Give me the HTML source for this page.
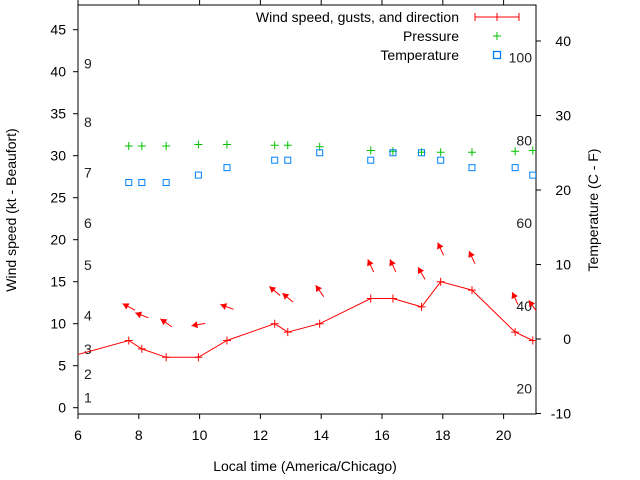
<!DOCTYPE html>
<html><head><meta charset="utf-8"><style>
html,body{margin:0;padding:0;background:#fff}
svg{display:block;font-family:"Liberation Sans",sans-serif}
</style></head><body>
<svg id="chart" width="640" height="480" viewBox="0 0 640 480" xmlns="http://www.w3.org/2000/svg">
<defs><clipPath id="plotclip"><rect x="78" y="5" width="458" height="409"/></clipPath></defs>
<rect x="78" y="5" width="458" height="409" fill="none" stroke="#000" stroke-width="1"/>
<g id="axes"></g>
<g id="series" clip-path="url(#plotclip)"></g>
<g id="legend">
<text x="459" y="22" text-anchor="end" font-size="14" fill="#000">Wind speed, gusts, and direction</text>
<line x1="475" y1="17" x2="519" y2="17" stroke="#f00"/>
<path d="M475 13v8M519 13v8M497 13v8" stroke="#f00"/>
<text x="459" y="41" text-anchor="end" font-size="14" fill="#000">Pressure</text>
<path d="M493 36h8M497 32v8" stroke="#00c000"/>
<text x="459" y="60" text-anchor="end" font-size="14" fill="#000">Temperature</text>
<rect x="493.5" y="51.5" width="7" height="7" fill="none" stroke="#0080ff" stroke-width="1.3"/>
</g>
<text x="305" y="471" text-anchor="middle" font-size="14">Local time (America/Chicago)</text>
<text transform="translate(16,210) rotate(-90)" text-anchor="middle" font-size="14">Wind speed (kt - Beaufort)</text>
<text transform="translate(598,210) rotate(-90)" text-anchor="middle" font-size="14">Temperature (C - F)</text>
</svg>
<script>
const times = [7.67, 8.1, 8.9, 9.96, 10.9, 12.47, 12.9, 13.95, 15.63, 16.36, 17.3, 17.93, 18.96, 20.38, 20.96];
const windSpeed = [8, 7, 6, 6, 8, 10, 9, 10, 13, 13, 12, 15, 14, 9, 8];
const windGust = [12, 11, 10.1, 9.9, 12, 13.9, 13.1, 13.9, 16.9, 16.9, 16, 18.9, 17.9, 13, 12.1];
const windDir = [118, 110, 125, 80, 110, 130, 130, 145, 155, 155, 150, 155, 155, 155, 145];
const pressure = [25.9, 25.9, 25.9, 26.1, 26.1, 26.0, 26.0, 25.8, 25.3, 25.2, 25.06, 25.06, 25.06, 25.2, 25.3];
const temperature = [21, 21, 21, 22, 23, 24, 24, 25, 24, 25, 25, 24, 23, 23, 22];
const prevTime = 5.67, prevSpeed = 6;
const xTicks = [6, 8, 10, 12, 14, 16, 18, 20];
const yTicks = [0, 5, 10, 15, 20, 25, 30, 35, 40, 45];
const y2Ticks = [-10, 0, 10, 20, 30, 40];
const beaufortLabels = ['1','2','3','4','5','6','7','8','9'];
const beaufortKt = [1.2, 4, 7, 11, 17, 22, 28, 34, 41];
const fahrLabels = ['20','40','60','80','100'];
const fahrValues = [20, 40, 60, 80, 100];

const NS = 'http://www.w3.org/2000/svg';
const X = t => 78 + (t - 6) * 30.4;
const Y = v => 407.7 - v * 8.4;
const Y2 = c => 339 - c * 7.45;
function mk(tag, attrs, parent) {
  const e = document.createElementNS(NS, tag);
  for (const k in attrs) e.setAttribute(k, attrs[k]);
  parent.appendChild(e); return e;
}
const axes = document.getElementById('axes');
const series = document.getElementById('series');

xTicks.forEach(t => {
  const g = mk('g', {}, axes);
  
  
  mk('path', {d: `M${X(t)} 414v5M${X(t)} 5v-5`, stroke: '#000'}, g);
  const tx = mk('text', {x: X(t), y: 440, 'text-anchor': 'middle', 'font-size': 14}, g);
  tx.textContent = t;
});
yTicks.forEach(v => {
  const g = mk('g', {}, axes);
  
  
  mk('path', {d: `M73 ${Y(v)}h5`, stroke: '#000'}, g);
  const tx = mk('text', {x: 66, y: Y(v) + 5, 'text-anchor': 'end', 'font-size': 14}, g);
  tx.textContent = v;
});
y2Ticks.forEach(v => {
  const g = mk('g', {}, axes);
  
  
  mk('path', {d: `M536 ${Y2(v)}h5`, stroke: '#000'}, g);
  const tx = mk('text', {x: 571, y: Y2(v) + 5, 'text-anchor': 'end', 'font-size': 14}, g);
  tx.textContent = v;
});
beaufortLabels.forEach((s, i) => {
  const tx = mk('text', {x: 84, y: Y(beaufortKt[i]) + 5, 'font-size': 14, fill: '#222'}, axes);
  
  
  tx.textContent = s;
});
fahrLabels.forEach((s, i) => {
  const c = (fahrValues[i] - 32) * 5 / 9;
  const tx = mk('text', {x: 532, y: Y2(c) + 5, 'text-anchor': 'end', 'font-size': 14, fill: '#222'}, axes);
  
  
  tx.textContent = s;
});

let d = `M${X(prevTime)} ${Y(prevSpeed)}`;
times.forEach((t, i) => { d += `L${X(t)} ${Y(windSpeed[i])}`; });
const wl = mk('path', {d, fill: 'none', stroke: '#f00', 'stroke-width': 1}, series);


times.forEach((t, i) => {
  const x = X(t), y = Y(windSpeed[i]);
  const m = mk('path', {d: `M${x-4} ${y}h8M${x} ${y-4}v8`, stroke: '#f00'}, series);
  
  
});
times.forEach((t, i) => {
  const cx = X(t), cy = Y(windGust[i]);
  const a = (windDir[i] + 180) * Math.PI / 180;
  const ux = Math.sin(a), uy = -Math.cos(a);
  const L = 7;
  const hx = cx + ux * L, hy = cy + uy * L, tx = cx - ux * L, ty = cy - uy * L;
  const px = -uy, py = ux;
  const g = mk('g', {}, series);
  
  
  mk('line', {x1: tx, y1: ty, x2: hx, y2: hy, stroke: '#f00'}, g);
  const bx = hx - ux * 6, by = hy - uy * 6;
  mk('path', {d: `M${hx} ${hy}L${bx + px*3.5} ${by + py*3.5}L${bx - px*3.5} ${by - py*3.5}Z`, fill: '#f00'}, g);
});
times.forEach((t, i) => {
  const x = X(t), y = Y2(pressure[i]);
  const m = mk('path', {d: `M${x-4} ${y}h8M${x} ${y-4}v8`, stroke: '#00c000'}, series);
  
  
});
times.forEach((t, i) => {
  const x = X(t), y = Y2(temperature[i]);
  const m = mk('rect', {x: x - 3, y: y - 3, width: 6, height: 6, fill: 'none', stroke: '#0080ff'}, series);
  
  
});
</script>
</body></html>
